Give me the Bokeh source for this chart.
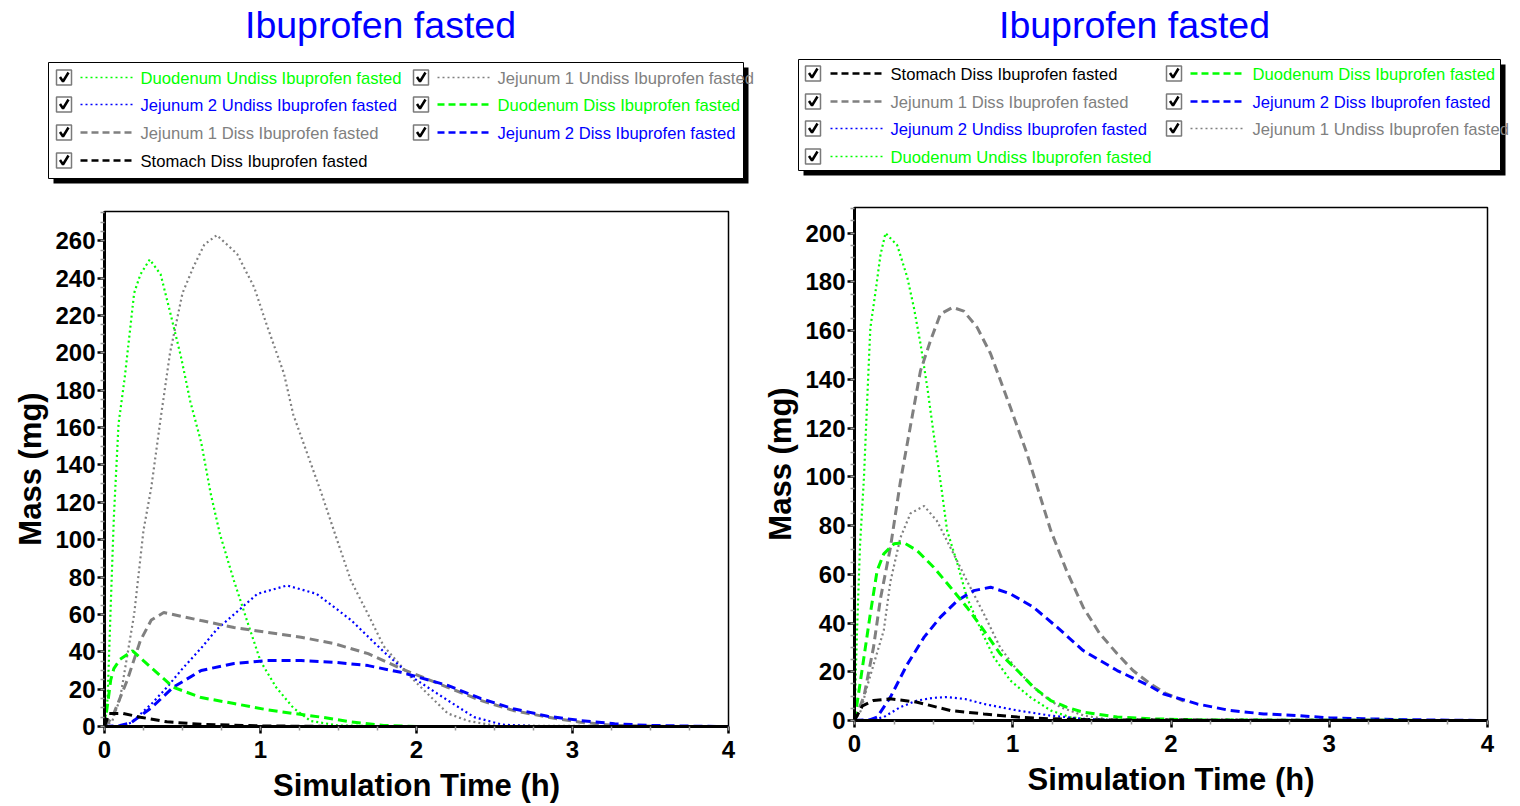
from bokeh.plotting import figure
from bokeh.layouts import row, column
from bokeh.models import Range1d, FixedTicker
from bokeh.core.properties import value
from bokeh.embed import file_html
from bokeh.resources import INLINE

# ---------------- texts ----------------
TITLE = "Ibuprofen fasted"
X_LABEL = "Simulation Time (h)"
Y_LABEL = "Mass (mg)"

STOMACH_D = "Stomach Diss Ibuprofen fasted"
DUO_D = "Duodenum Diss Ibuprofen fasted"
JEJ1_D = "Jejunum 1 Diss Ibuprofen fasted"
JEJ2_D = "Jejunum 2 Diss Ibuprofen fasted"
DUO_U = "Duodenum Undiss Ibuprofen fasted"
JEJ1_U = "Jejunum 1 Undiss Ibuprofen fasted"
JEJ2_U = "Jejunum 2 Undiss Ibuprofen fasted"

x_ticks = [0, 1, 2, 3, 4]
x_minor = [i * 0.25 for i in range(17)]
y_ticks_left = list(range(0, 261, 20))
y_minor_left = list(range(0, 276, 5))
y_ticks_right = list(range(0, 201, 20))
y_minor_right = list(range(0, 211, 5))

# ---------------- left panel data ----------------
L_duo_u_t = [0, 0.02, 0.04, 0.06, 0.09, 0.13, 0.19, 0.23, 0.29, 0.36, 0.42, 0.49, 0.55, 0.62, 0.68, 0.74, 0.83, 0.92, 1.0, 1.1, 1.21, 1.32, 1.5, 2.0, 4.0]
L_duo_u_v = [0, 15, 65, 112, 162, 187, 232, 242, 250, 242, 222, 198, 174, 152, 125, 103, 78, 55, 35, 21, 10, 3, 0.5, 0, 0]

L_jej1_u_t = [0, 0.05, 0.1, 0.19, 0.25, 0.3, 0.36, 0.42, 0.5, 0.57, 0.64, 0.72, 0.85, 0.96, 1.04, 1.15, 1.21, 1.3, 1.39, 1.47, 1.58, 1.69, 1.79, 1.98, 2.2, 2.33, 2.5, 4.0]
L_jej1_u_v = [0, 3, 15, 60, 105, 128, 165, 200, 232, 246, 258, 263, 253, 235, 215, 189, 167, 146, 125, 105, 78, 60, 43, 25, 7, 3, 0.5, 0]

L_jej2_u_t = [0, 0.1, 0.17, 0.3, 0.4, 0.5, 0.62, 0.72, 0.83, 0.98, 1.17, 1.36, 1.58, 1.79, 1.98, 2.2, 2.37, 2.55, 2.8, 4.0]
L_jej2_u_v = [0, 0, 2, 12, 21, 31, 42, 52, 60, 71, 75.5, 71, 57, 40, 26, 14, 5, 1, 0, 0]

L_duo_d_t = [0, 0.02, 0.04, 0.06, 0.1, 0.18, 0.3, 0.44, 0.62, 0.83, 1.04, 1.21, 1.39, 1.58, 1.79, 2.0, 4.0]
L_duo_d_v = [0, 12, 25, 31, 36, 40.5, 31.5, 21, 15.5, 12.3, 9, 7, 5, 2.5, 0.6, 0, 0]

L_jej1_d_t = [0, 0.05, 0.145, 0.23, 0.3, 0.38, 0.62, 0.83, 1.04, 1.26, 1.47, 1.69, 1.9, 2.2, 2.41, 2.62, 2.84, 3.05, 3.27, 3.6, 4.0]
L_jej1_d_v = [0, 5, 24.6, 46, 57, 61, 56.7, 53, 50.4, 47.8, 44.4, 39, 31, 21, 14, 8.6, 5, 2.3, 0.6, 0, 0]

L_jej2_d_t = [0, 0.1, 0.17, 0.3, 0.44, 0.62, 0.83, 1.04, 1.26, 1.47, 1.69, 1.9, 2.2, 2.41, 2.62, 2.84, 3.05, 3.27, 3.48, 3.75, 4.0]
L_jej2_d_v = [0, 0.5, 2, 10, 21, 30, 33.7, 35.3, 35.3, 34.4, 32.6, 29, 22, 15, 9.5, 5.5, 3.2, 1.5, 0.6, 0.2, 0]

L_sto_d_t = [0, 0.03, 0.12, 0.23, 0.4, 0.62, 1.0, 1.5, 4.0]
L_sto_d_v = [0, 7, 7, 5, 2.5, 1.2, 0.3, 0, 0]

# ---------------- right panel data ----------------
R_duo_u_t = [0, 0.015, 0.035, 0.06, 0.08, 0.1, 0.133, 0.164, 0.196, 0.27, 0.333, 0.375, 0.417, 0.46, 0.5, 0.55, 0.585, 0.65, 0.71, 0.8, 0.88, 0.985, 1.11, 1.24, 1.36, 1.5, 4.0]
R_duo_u_v = [0, 35, 72, 100, 131, 161, 176, 191, 200, 195, 182, 169.5, 154.6, 136.7, 117.7, 95, 78, 64.4, 50.6, 37, 26, 16.4, 9.6, 4.1, 1.4, 0.2, 0]

R_jej1_d_t = [0, 0.06, 0.12, 0.164, 0.227, 0.29, 0.333, 0.375, 0.417, 0.48, 0.543, 0.62, 0.69, 0.775, 0.86, 0.985, 1.09, 1.175, 1.24, 1.34, 1.445, 1.55, 1.66, 1.76, 1.87, 1.97, 2.08]
R_jej1_d_v = [0, 10, 30, 50, 71, 98, 113.5, 128.5, 143.5, 155.8, 166.8, 169.5, 168, 161.3, 150.5, 128.5, 109.5, 91.6, 78, 61.5, 46.5, 35.6, 27.4, 20.5, 15, 11, 8]

R_jej1_u_t = [0, 0.04, 0.08, 0.13, 0.185, 0.227, 0.29, 0.354, 0.44, 0.52, 0.606, 0.71, 0.817, 0.92, 1.03, 1.175, 1.3, 1.45, 1.6, 4.0]
R_jej1_u_v = [0, 4, 14, 25, 37, 57, 75, 85, 88, 82, 71, 57.4, 43.8, 30, 20.5, 11, 5.5, 2, 0.5, 0]

R_duo_d_t = [0, 0.038, 0.1, 0.143, 0.185, 0.25, 0.31, 0.396, 0.5, 0.606, 0.71, 0.817, 0.92, 1.03, 1.13, 1.24, 1.34, 1.445, 1.66, 1.87, 2.2, 4.0]
R_duo_d_v = [0, 16.4, 43.8, 61.5, 68.4, 72.5, 73, 69.7, 62.9, 54.7, 46.5, 37, 27.4, 20.5, 13.7, 8.2, 5.5, 3.4, 1.4, 0.7, 0.2, 0]

R_jej2_d_t = [0, 0.1, 0.143, 0.227, 0.333, 0.44, 0.543, 0.65, 0.754, 0.86, 0.985, 1.13, 1.28, 1.445, 1.66, 1.87, 1.95, 2.165, 2.375, 2.586, 2.8, 3.0, 3.22, 3.53, 4.0]
R_jej2_d_v = [0, 0.3, 1.4, 9.6, 23, 34.2, 42.4, 49.2, 53.3, 54.7, 52, 46.5, 38.3, 28.7, 20.5, 14, 11, 6.8, 4.1, 2.7, 2, 1.1, 0.7, 0.3, 0]

R_jej2_u_t = [0, 0.1, 0.185, 0.29, 0.396, 0.5, 0.585, 0.7, 0.817, 1.03, 1.24, 1.445, 1.7, 4.0]
R_jej2_u_v = [0, 0.2, 1.4, 5.5, 8.2, 9.3, 9.6, 8.8, 6.8, 4.1, 2, 0.7, 0, 0]

R_sto_d_t = [0, 0.05, 0.12, 0.227, 0.396, 0.606, 0.817, 1.03, 1.24, 1.6, 4.0]
R_sto_d_v = [0, 6, 8.2, 8.9, 7.5, 4.1, 2.7, 1.4, 0.7, 0.2, 0]

# ---------------- styles ----------------
GREEN = "#00ff00"
BLUE = "#0000ff"
GRAY = "#808080"
BLACK = "#000000"
STYLE = {
    STOMACH_D: (BLACK, "dash"),
    DUO_D: (GREEN, "dash"),
    JEJ1_D: (GRAY, "dash"),
    JEJ2_D: (BLUE, "dash"),
    DUO_U: (GREEN, "dot"),
    JEJ1_U: (GRAY, "dot"),
    JEJ2_U: (BLUE, "dot"),
}
FONT = "Liberation Sans"


def line_kw(name, legend=False):
    color, kind = STYLE[name]
    if kind == "dash":
        return dict(line_color=color, line_width=2.5 if legend else 3,
                    line_dash="7 4" if legend else "9 5")
    return dict(line_color=color, line_width=1.6 if legend else 2.2,
                line_dash="2 3")


def legend_fig(order, box, cols_x, rows_y, title_x):
    W, H = 760, 200
    f = figure(frame_width=W, frame_height=H, x_range=Range1d(0, W),
               y_range=Range1d(H, 0), x_axis_location=None, y_axis_location=None,
               toolbar_location=None, output_backend="svg", frame_align=False,
               min_border=0, outline_line_color=None)
    f.grid.visible = False
    f.text(x=[title_x], y=[24], text=[TITLE], text_color=BLUE,
           text_font=value(FONT), text_font_size="37.5px",
           text_align="center", text_baseline="middle")
    bx0, by0, bx1, by1 = box
    f.quad(left=bx0 + 5, right=bx1 + 5, top=by0 + 5, bottom=by1 + 5,
           fill_color=BLACK, line_color=None)
    f.quad(left=bx0, right=bx1, top=by0, bottom=by1,
           fill_color="white", line_color=BLACK, line_width=1)
    for i, name in enumerate(order):
        cx, lx0, lx1, tx = cols_x[i % 2]
        y = rows_y[i // 2]
        color, _ = STYLE[name]
        f.quad(left=cx, right=cx + 15, top=y - 7.5, bottom=y + 7.5,
               fill_color="white", line_color="#7a7a7a", line_width=1.5)
        f.line(x=[cx + 3.5, cx + 6.5, cx + 12], y=[y - 0.5, y + 4, y - 5],
               line_color=BLACK, line_width=2.5)
        f.line(x=[lx0, lx1], y=[y, y], **line_kw(name, legend=True))
        f.text(x=[tx], y=[y + 0.5], text=[name], text_color=color,
               text_font=value(FONT), text_font_size="16.6px",
               text_align="left", text_baseline="middle")
    return f


def main_fig(series, ymax, yt, ym, left, fw, right, top, fh, bottom):
    p = figure(frame_width=fw, frame_height=fh,
               min_border_left=left, min_border_right=right,
               min_border_top=top, min_border_bottom=bottom,
               x_range=Range1d(0, 4), y_range=Range1d(0, ymax),
               toolbar_location=None, output_backend="svg", frame_align=False,
               outline_line_color=BLACK, outline_line_width=1.5)
    p.grid.visible = False
    p.xaxis.ticker = FixedTicker(ticks=x_ticks, minor_ticks=x_minor)
    p.yaxis.ticker = FixedTicker(ticks=yt, minor_ticks=ym)
    p.xaxis.axis_label = X_LABEL
    p.yaxis.axis_label = Y_LABEL
    for ax in (p.xaxis, p.yaxis):
        ax.axis_line_width = 3
        ax.axis_line_color = BLACK
        ax.major_tick_line_width = 2.5
        ax.major_tick_line_color = BLACK
        ax.major_tick_in = 0
        ax.major_tick_out = 7
        ax.minor_tick_line_color = "#999999"
        ax.minor_tick_line_width = 1.5
        ax.minor_tick_in = 0
        ax.minor_tick_out = 4
        ax.major_label_text_font = FONT
        ax.major_label_text_font_size = "24px"
        ax.major_label_text_font_style = "bold"
        ax.major_label_text_color = BLACK
        ax.axis_label_text_font = FONT
        ax.axis_label_text_font_size = "31px"
        ax.axis_label_text_font_style = "bold"
        ax.axis_label_text_color = BLACK
    p.xaxis.major_label_standoff = 7
    p.xaxis.axis_label_standoff = 7
    p.yaxis.major_label_standoff = 2
    p.yaxis.axis_label_standoff = 4
    for name, t, v in series:
        p.line(x=t, y=v, **line_kw(name))
    return p


left_series = [
    (JEJ1_U, L_jej1_u_t, L_jej1_u_v),
    (DUO_U, L_duo_u_t, L_duo_u_v),
    (JEJ2_U, L_jej2_u_t, L_jej2_u_v),
    (JEJ1_D, L_jej1_d_t, L_jej1_d_v),
    (JEJ2_D, L_jej2_d_t, L_jej2_d_v),
    (DUO_D, L_duo_d_t, L_duo_d_v),
    (STOMACH_D, L_sto_d_t, L_sto_d_v),
]
right_series = [
    (JEJ1_U, R_jej1_u_t, R_jej1_u_v),
    (DUO_U, R_duo_u_t, R_duo_u_v),
    (JEJ2_U, R_jej2_u_t, R_jej2_u_v),
    (JEJ1_D, R_jej1_d_t, R_jej1_d_v),
    (JEJ2_D, R_jej2_d_t, R_jej2_d_v),
    (DUO_D, R_duo_d_t, R_duo_d_v),
    (STOMACH_D, R_sto_d_t, R_sto_d_v),
]

left_order = [DUO_U, JEJ1_U, JEJ2_U, DUO_D, JEJ1_D, JEJ2_D, STOMACH_D]
right_order = [STOMACH_D, DUO_D, JEJ1_D, JEJ2_D, JEJ2_U, JEJ1_U, DUO_U]

legL = legend_fig(left_order, (48, 62, 743, 178),
                  [(56, 80, 133, 140), (413, 437, 490, 497)],
                  [77, 104, 132, 160], 380)
legR = legend_fig(right_order, (38, 59, 740, 170),
                  [(45, 70, 123, 130), (406, 430, 485, 492)],
                  [73, 101, 128, 156], 374)

mainL = main_fig(left_series, 275.7, y_ticks_left, y_minor_left,
                 104, 624, 32, 11, 515, 80)
mainR = main_fig(right_series, 210.5, y_ticks_right, y_minor_right,
                 93, 633, 34, 7, 513, 86)

layout = row(column(legL, mainL), column(legR, mainR))
open("out.html", "w").write(file_html(layout, INLINE))
